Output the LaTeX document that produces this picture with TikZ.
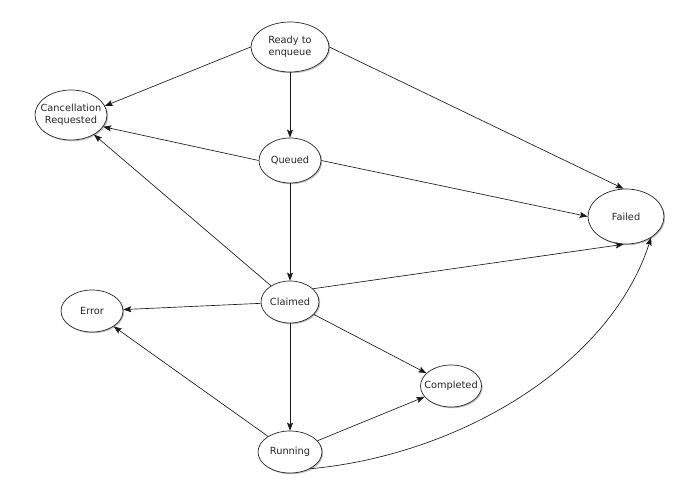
\documentclass[tikz,border=0pt]{standalone}
\usepackage{fontspec}
\setmainfont{DejaVu Sans}
\usetikzlibrary{shapes.geometric,arrows.meta,shadows}
\begin{document}
\begin{tikzpicture}[x=1pt,y=-1pt,
  state/.style={ellipse, draw=black!85, line width=0.7pt, fill=white, inner sep=0pt,
    drop shadow={shadow xshift=1.2pt,shadow yshift=-1.2pt,opacity=0.25,fill=black}},
  txt/.style={font=\fontsize{9.8}{12}\selectfont, align=center, text=black!85, inner sep=0pt},
  edge/.style={draw=black!90, line width=0.65pt, -{Stealth[length=8pt,width=6pt,inset=1.5pt]}}]
\useasboundingbox (0,0) rectangle (700,500);

\node[state, minimum width=78pt, minimum height=50pt, label={[txt]center:Ready to\\enqueue}] (rd) at (290,47) {};
\node[state, minimum width=72pt, minimum height=50pt, label={[txt]center:Cancellation\\Requested}] (cr) at (71,115) {};
\node[state, minimum width=62pt, minimum height=45pt, label={[txt]center:Queued}] (q) at (290,160.5) {};
\node[state, minimum width=76pt, minimum height=55pt, label={[txt]center:Failed}] (f) at (626,216.5) {};
\node[state, minimum width=58pt, minimum height=42pt, label={[txt]center:Claimed}] (c) at (290,302) {};
\node[state, minimum width=62pt, minimum height=42pt, label={[txt]center:Error}] (e) at (92,311) {};
\node[state, minimum width=61pt, minimum height=42pt, label={[txt]center:Completed}] (co) at (451,386) {};
\node[state, minimum width=64pt, minimum height=42pt, label={[txt]center:Running}] (r) at (290,452) {};

\coordinate (k1) at (460,455);
\coordinate (k2) at (610,365);

\draw[edge] (rd.west) -- (cr.15);
\draw[edge] (rd) -- (q);
\draw[edge] (rd.east) -- (f.95);
\draw[edge] (q.west) -- (cr.-20);
\draw[edge] (q) -- (c);
\draw[edge] (q.east) -- (f.west);
\draw[edge] (c) -- (cr);
\draw[edge] (c.30) -- (f.-95);
\draw[edge] (c) -- (e);
\draw[edge] (c) -- (co);
\draw[edge] (c) -- (r);
\draw[edge] (r) -- (e);
\draw[edge] (r) -- (co);
\draw[edge] (r.-40) .. controls (k1) and (k2) .. (f.-40);
\end{tikzpicture}
\end{document}
